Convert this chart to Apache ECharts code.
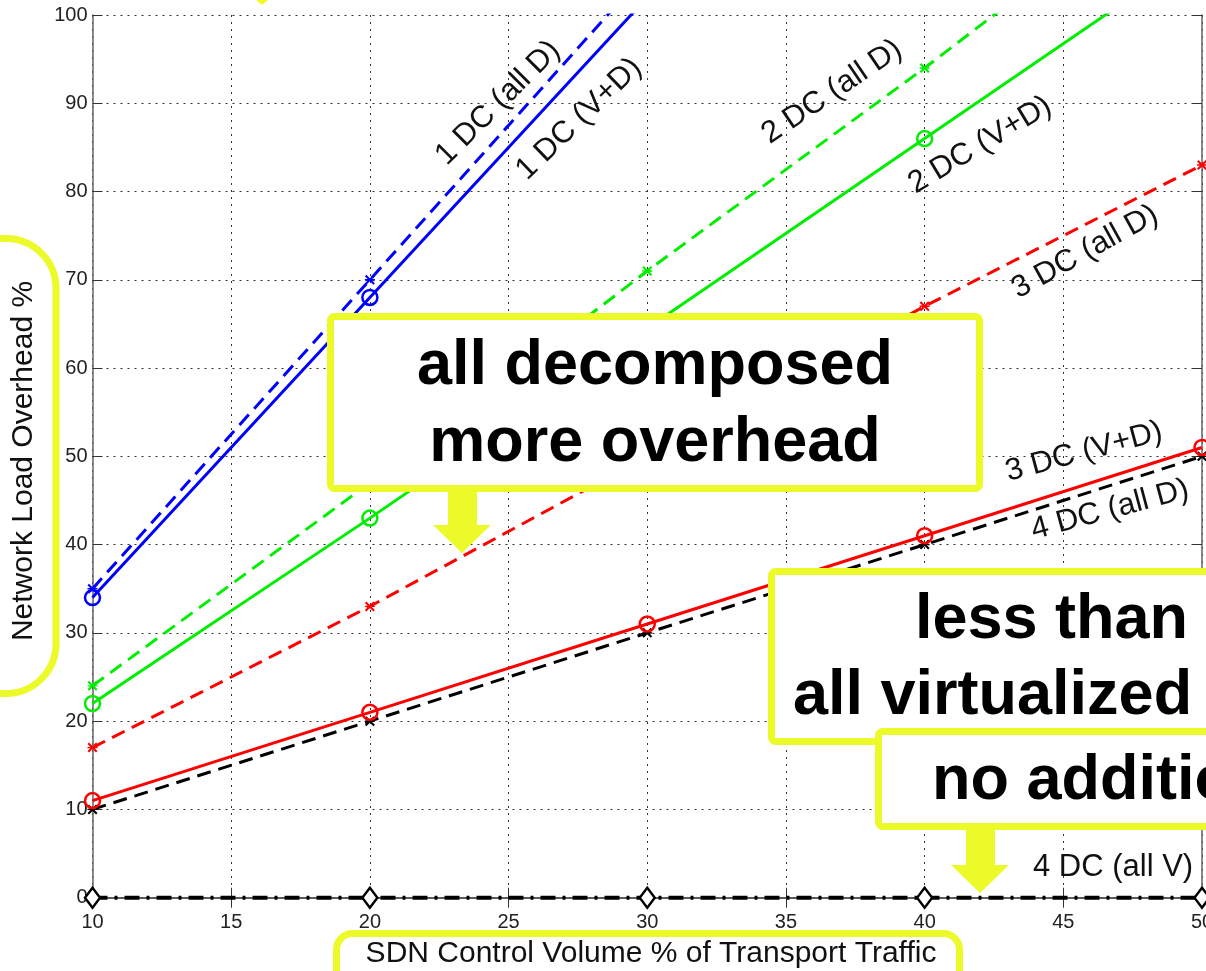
<!DOCTYPE html>
<html><head><meta charset="utf-8">
<script src="https://cdn.jsdelivr.net/npm/echarts@6/dist/echarts.min.js"></script>
<style>html,body{margin:0;padding:0;background:#fff;overflow:hidden}#c{width:1206px;height:971px}</style>
</head><body><div id="c"></div>
<script>
// ---- data ----
const xValues = [10, 20, 30, 40, 50];
const yTickValues = [0, 10, 20, 30, 40, 50, 60, 70, 80, 90, 100];
const dc1AllD = [35, 70, 105, 140, 175];
const dc1VD   = [34, 68, 102, 136, 170];
const dc2AllD = [24, 47, 71, 94, 118];
const dc2VD   = [22, 43, 64.5, 86, 107.5];
const dc3AllD = [17, 33, 50, 67, 83];
const dc3VD   = [11, 21, 31, 41, 51];
const dc4AllD = [10, 20, 30, 40, 50];
const dc4AllV = [0, 0, 0, 0, 0];
const xTitle = 'SDN Control Volume % of Transport Traffic';
const yTitle = 'Network Load Overhead %';

const FONT = '"Liberation Sans", Arial, sans-serif';
const YEL = '#ECFA2A';
const STAR = 'path://M0,1.5L1.5,0L5,3.5L8.5,0L10,1.5L6.5,5L10,8.5L8.5,10L5,6.5L1.5,10L0,8.5L3.5,5Z M0,4.3L10,4.3L10,5.7L0,5.7Z';

function pts(arr) { return xValues.map((x, i) => [x, arr[i]]); }
function lineSeries(name, arr, color, kind) {
  const s = {
    name, type: 'line', data: pts(arr), clip: true, animation: false,
    lineStyle: { color, width: 3, type: 'solid' },
    z: 3
  };
  if (kind === 'o') {
    s.symbol = 'circle'; s.symbolSize = 15;
    s.itemStyle = { color: 'rgba(255,255,255,0)', borderColor: color, borderWidth: 2.5 };
  } else if (kind === 'x') {
    s.lineStyle.type = [14, 8];
    s.symbol = STAR; s.symbolSize = 10;
    s.itemStyle = { color, borderWidth: 0 };
  } else if (kind === 'd') {
    s.lineStyle.type = [15, 7, 3, 7];
    s.lineStyle.width = 4;
    s.symbol = 'diamond'; s.symbolSize = [15, 20];
    s.itemStyle = { color: '#fff', borderColor: '#000', borderWidth: 2.5 };
  }
  return s;
}

function txt(text, x, y, size, opts) {
  opts = opts || {};
  return {
    type: 'text', x, y, rotation: (opts.rot || 0) * Math.PI / 180, z: 100,
    style: {
      text, fill: opts.color || '#111',
      font: (opts.bold ? 'bold ' : '') + size + 'px ' + FONT,
      textAlign: opts.align || 'center', align: opts.align || 'center',
      textVerticalAlign: 'middle', verticalAlign: 'middle'
    }
  };
}
function box(x, y, w, h, r, fill) {
  return { type: 'rect', z: 90, shape: { x, y, width: w, height: h, r },
    style: { fill: fill || '#fff', stroke: YEL, lineWidth: 7 } };
}
function poly(points) {
  return { type: 'polygon', z: 95, shape: { points }, style: { fill: YEL } };
}

const axisCommon = {
  type: 'value', axisLine: { show: true, lineStyle: { color: '#333', width: 1.5 } },
  axisTick: { show: true, inside: true, length: 10, lineStyle: { color: '#333', width: 1 } },
};

const chart = echarts.init(document.getElementById('c'), null, { renderer: 'canvas', width: 1206, height: 971 });
chart.setOption({
  animation: false,
  backgroundColor: '#fff',
  grid: { left: 92.5, right: 4, top: 15, bottom: 64.5, containLabel: false, outerBoundsMode: 'none' },
  xAxis: [
    Object.assign({}, axisCommon, {
      min: 10, max: 50, interval: 5, position: 'bottom',
      axisLine: { show: true, lineStyle: { color: '#111', width: 1.5 } },
      axisLabel: { fontSize: 20, color: '#222', fontFamily: FONT, margin: 6 },
      splitLine: { show: true, lineStyle: { color: '#333', width: 1, type: [2, 5] } }
    }),
    Object.assign({}, axisCommon, {
      min: 10, max: 50, interval: 5, position: 'top',
      axisLine: { show: true, lineStyle: { color: '#666', width: 1.5 } },
      axisLabel: { show: false }, splitLine: { show: false }
    })
  ],
  yAxis: [
    Object.assign({}, axisCommon, {
      min: -1, max: 100, position: 'left',
      axisLine: { show: true, lineStyle: { color: '#666', width: 1.5 } },
      axisTick: { show: true, inside: true, length: 10, customValues: yTickValues, lineStyle: { color: '#333' } },
      axisLabel: { fontSize: 20, color: '#222', fontFamily: FONT, margin: 5, customValues: yTickValues },
      splitLine: { show: true, lineStyle: { color: '#333', width: 1, type: [2, 5] } }
    }),
    Object.assign({}, axisCommon, {
      min: -1, max: 100, position: 'right',
      axisLine: { show: true, lineStyle: { color: '#666', width: 1.5 } },
      axisTick: { show: true, inside: true, length: 10, customValues: yTickValues, lineStyle: { color: '#333' } },
      axisLabel: { show: false, customValues: yTickValues }, splitLine: { show: false }
    })
  ],
  series: [
    lineSeries('4 DC (all V)', dc4AllV, '#000', 'd'),
    lineSeries('4 DC (all D)', dc4AllD, '#000', 'x'),
    lineSeries('3 DC (all D)', dc3AllD, '#ff0000', 'x'),
    lineSeries('3 DC (V+D)', dc3VD, '#ff0000', 'o'),
    lineSeries('2 DC (all D)', dc2AllD, '#00ee00', 'x'),
    lineSeries('2 DC (V+D)', dc2VD, '#00ee00', 'o'),
    lineSeries('1 DC (all D)', dc1AllD, '#0000ff', 'x'),
    lineSeries('1 DC (V+D)', dc1VD, '#0000ff', 'o')
  ],
  graphic: { elements: [
    // curve labels
    txt('1 DC (all D)', 498, 103, 31, { rot: 45 }),
    txt('1 DC (V+D)', 579, 119, 31, { rot: 44 }),
    txt('2 DC (all D)', 832, 92, 31, { rot: 34 }),
    txt('2 DC (V+D)', 980, 145, 31, { rot: 31 }),
    txt('3 DC (all D)', 1085, 252, 31, { rot: 29 }),
    txt('3 DC (V+D)', 1084, 452, 31, { rot: 15 }),
    txt('4 DC (all D)', 1110, 510, 31, { rot: 15 }),
    txt('4 DC (all V)', 1033, 867, 31, { align: 'left' }),
    // axis title boxes
    box(-100, 238.5, 156, 455, 50),
    txt(yTitle, 24, 461, 30, { rot: 90 }),
    box(336.5, 933.5, 623, 100, 16),
    txt(xTitle, 651, 954, 30),
    // annotation 1
    box(330.5, 316.5, 649, 172, 4),
    txt('all decomposed', 655, 367, 63, { bold: true, color: '#000' }),
    txt('more overhead', 655, 444, 63, { bold: true, color: '#000' }),
    poly([[448, 490], [477, 490], [477, 525], [491, 525], [462, 553], [433, 525], [448, 525]]),
    // annotation 2
    box(771.5, 571.5, 600, 170, 4),
    txt('less than', 915, 621, 63, { bold: true, color: '#000', align: 'left' }),
    txt('all virtualized', 793, 697, 63, { bold: true, color: '#000', align: 'left' }),
    box(878.5, 731.5, 500, 95, 4),
    txt('no additional', 932, 782, 63, { bold: true, color: '#000', align: 'left' }),
    poly([[966, 828], [995, 828], [995, 865], [1009, 865], [980, 893], [951, 865], [966, 865]]),
    poly([[256, 0], [268, 0], [262, 5]])
  ] }
});
</script>
</body></html>
